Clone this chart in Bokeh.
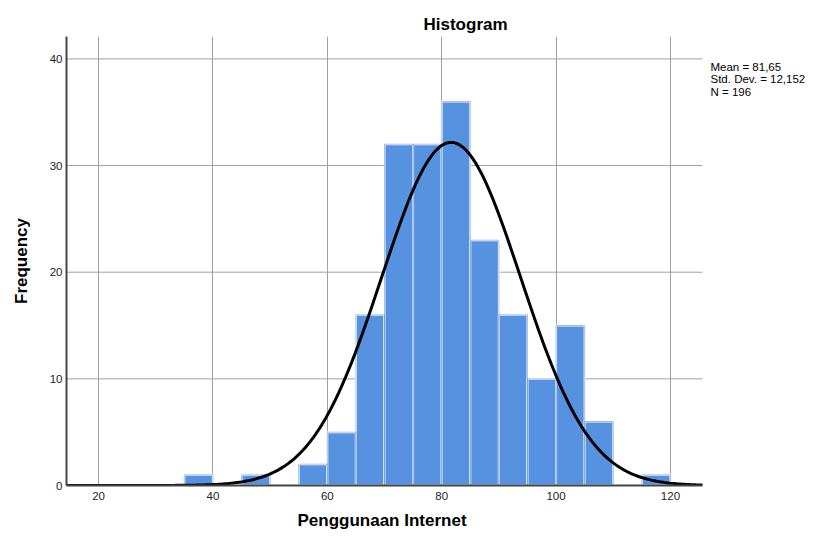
import numpy as np
from bokeh.plotting import figure
from bokeh.models import Range1d, FixedTicker, ColumnDataSource, Label, Title
from bokeh.embed import file_html
from bokeh.resources import INLINE

# Histogram data (bin edges of width 5)
bin_left = [35, 45, 55, 60, 65, 70, 75, 80, 85, 90, 95, 100, 105, 115]
bin_right = [40, 50, 60, 65, 70, 75, 80, 85, 90, 95, 100, 105, 110, 120]
counts = [1, 1, 2, 5, 16, 32, 32, 36, 23, 16, 10, 15, 6, 1]

mean_val = 81.65
std_val = 12.152
n_val = 196
bin_width = 5

x_ticks = [20, 40, 60, 80, 100, 120]
y_ticks = [0, 10, 20, 30, 40]
stats = ["Mean = 81,65", "Std. Dev. = 12,152", "N = 196"]

x_min, x_max = 14.4, 125.6      # extent of the plotted x axis
FONT = "Liberation Sans"

# the frame runs to the right edge so that the statistics text sits inside it
p = figure(frame_width=749, frame_height=449, output_backend="svg", toolbar_location=None,
           x_range=Range1d(x_min, 145.36), y_range=Range1d(0, 42.1),
           min_border_left=66, min_border_right=0, min_border_top=36,
           min_border_bottom=52)
p.outline_line_color = None
p.background_fill_color = "white"
p.border_fill_color = "white"

p.title.text = "Histogram"
p.title.text_font = FONT
p.title.text_font_size = "17px"
p.title.text_font_style = "bold"
p.title.text_color = "black"
p.title.align = "left"
p.title.offset = 357
p.title.standoff = 5

# horizontal grid lines, limited to the axis extent
p.segment(x0=[x_min] * len(y_ticks), x1=[x_max] * len(y_ticks), y0=y_ticks, y1=y_ticks,
          line_color="#A0A0A0", line_width=1)

src = ColumnDataSource(dict(left=bin_left, right=bin_right, top=counts,
                            bottom=[0] * len(counts)))
p.quad(left="left", right="right", top="top", bottom="bottom", source=src,
       fill_color="#5692E0", line_color="white", line_width=2)
p.quad(left="left", right="right", top="top", bottom="bottom", source=src,
       fill_color=None, line_color="#3F7DD2", line_width=0.8, line_alpha=0.6)

# fitted normal curve from the stated statistics
xs = np.linspace(x_min, x_max, 300)
ys = n_val * bin_width * np.exp(-0.5 * ((xs - mean_val) / std_val) ** 2) / (std_val * np.sqrt(2 * np.pi))
p.line(xs, ys, line_color="black", line_width=3)

for ax in (p.xaxis, p.yaxis):
    ax.major_tick_out = 0
    ax.major_tick_in = 0
    ax.minor_tick_out = 0
    ax.minor_tick_in = 0
    ax.axis_line_color = "#444444"
    ax.axis_line_width = 2
    ax.major_label_text_font = FONT
    ax.major_label_text_font_size = "11.5px"
    ax.major_label_text_color = "#222222"
    ax.axis_label_text_font = FONT
    ax.axis_label_text_font_size = "17px"
    ax.axis_label_text_font_style = "bold"
    ax.axis_label_text_color = "black"

p.xaxis.bounds = (x_min, x_max)
p.xaxis.ticker = FixedTicker(ticks=x_ticks)
p.yaxis.ticker = FixedTicker(ticks=y_ticks)
p.xaxis.major_label_standoff = 6
p.yaxis.major_label_standoff = 4
p.yaxis.axis_label = "Frequency"
p.yaxis.axis_label_standoff = 16

# x axis title, centred under the axis extent rather than the whole frame
p.add_layout(Title(text="Penggunaan Internet", align="left", offset=231, standoff=12,
                   text_font=FONT, text_font_size="17px", text_font_style="bold",
                   text_color="black"), "below")

p.xgrid.ticker = FixedTicker(ticks=x_ticks)
p.xgrid.grid_line_color = "#A0A0A0"
p.xgrid.grid_line_width = 1
p.ygrid.visible = False

# statistics text (screen units measured from the frame's lower-left corner)
for i, s in enumerate(stats):
    p.add_layout(Label(x=644, y=425 - i * 12.5, x_units="screen", y_units="screen",
                       text=s, text_font=FONT, text_font_size="11.5px",
                       text_align="left", text_baseline="top", text_color="black"))

open("out.html", "w").write(file_html(p, INLINE))
